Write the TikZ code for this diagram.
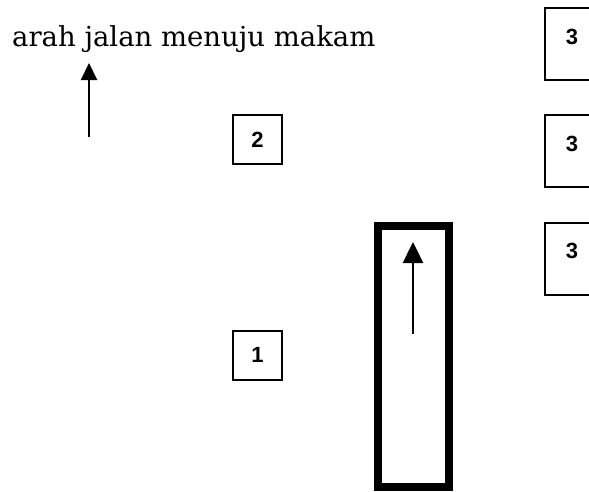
\documentclass[tikz,border=0pt]{standalone}
\usepackage{fontspec}
\setmainfont{DejaVu Serif}
\newfontfamily\labelfont{Liberation Sans}
\usetikzlibrary{arrows.meta}
\begin{document}
\begin{tikzpicture}[x=1pt,y=-1pt,
  numbox/.style={draw,line width=2pt,minimum width=49pt,minimum height=49pt,inner sep=0pt,font=\labelfont\bfseries\fontsize{22}{22}\selectfont},
  gravebox/.style={draw,line width=2pt,minimum width=54pt,minimum height=72pt,inner sep=0pt},
  numtext/.style={font=\labelfont\bfseries\fontsize{22}{22}\selectfont,inner sep=0pt},
  dirarrow/.style={line width=2.2pt,-{Triangle[length=17pt,width=16pt]}},
  bigarrow/.style={line width=2.4pt,-{Triangle[length=21pt,width=20pt]}},
  road/.style={draw,line width=8.5pt,minimum width=71pt,minimum height=261pt,inner sep=0pt}]
\useasboundingbox (0,0) rectangle (589,491);
\clip (0,0) rectangle (589,491);
\node[anchor=base west,inner sep=0pt,font=\fontsize{27.5}{27.5}\selectfont] (title) at (12,46) {arah jalan menuju makam};
\coordinate (ltail) at (89,137);
\coordinate (ltip) at (89,63);
\draw[dirarrow] (ltail) -- (ltip);
\node[numbox] (b2) at (257.5,139.5) {2};
\node[numbox] (b1) at (257.5,355) {1};
\node[gravebox] (g1) at (572,44) {};
\node[gravebox] (g2) at (572,151) {};
\node[gravebox] (g3) at (572,259) {};
\node[numtext] (t1) at (572,37) {3};
\node[numtext] (t2) at (572,144) {3};
\node[numtext] (t3) at (572,251) {3};
\node[road] (rd) at (413.5,356.5) {};
\coordinate (rtail) at (413,334);
\coordinate (rtip) at (413,242);
\draw[bigarrow] (rtail) -- (rtip);
\end{tikzpicture}
\end{document}
